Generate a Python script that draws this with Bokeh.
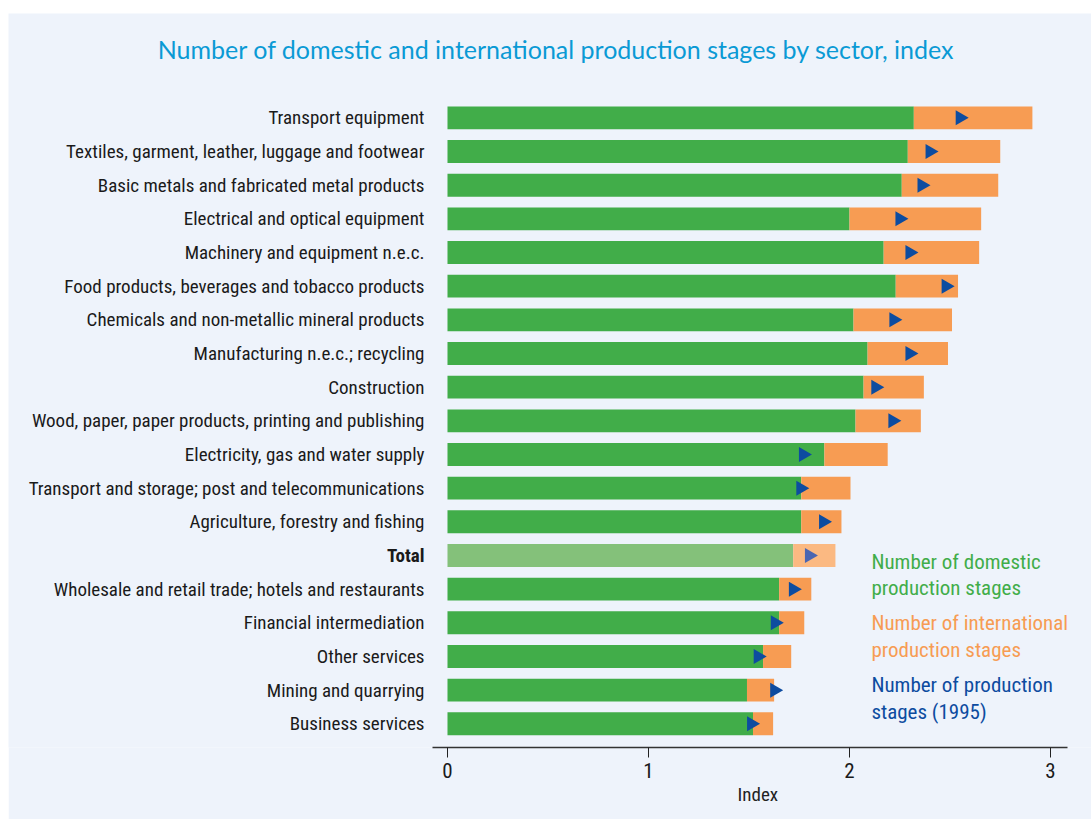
import numpy as np
from bokeh.plotting import figure
from bokeh.models import ColumnDataSource, Range1d, Label, FixedTicker, Title
from bokeh.embed import file_html
from bokeh.resources import INLINE

# Sectors, top to bottom
sectors = [
    "Transport equipment",
    "Textiles, garment, leather, luggage and footwear",
    "Basic metals and fabricated metal products",
    "Electrical and optical equipment",
    "Machinery and equipment n.e.c.",
    "Food products, beverages and tobacco products",
    "Chemicals and non-metallic mineral products",
    "Manufacturing n.e.c.; recycling",
    "Construction",
    "Wood, paper, paper products, printing and publishing",
    "Electricity, gas and water supply",
    "Transport and storage; post and telecommunications",
    "Agriculture, forestry and fishing",
    "Total",
    "Wholesale and retail trade; hotels and restaurants",
    "Financial intermediation",
    "Other services",
    "Mining and quarrying",
    "Business services",
]

# Index values
domestic = [2.32, 2.29, 2.26, 2.00, 2.17, 2.23, 2.02, 2.09, 2.07, 2.03,
            1.875, 1.76, 1.76, 1.72, 1.65, 1.65, 1.57, 1.49, 1.52]
international = [0.59, 0.46, 0.48, 0.655, 0.475, 0.31, 0.49, 0.40, 0.30, 0.325,
                 0.315, 0.245, 0.20, 0.21, 0.16, 0.125, 0.14, 0.135, 0.10]
stages_1995 = [2.55, 2.40, 2.36, 2.25, 2.30, 2.48, 2.22, 2.30, 2.13, 2.215,
               1.77, 1.757, 1.87, 1.80, 1.72, 1.63, 1.545, 1.627, 1.512]

x_ticks = [0, 1, 2, 3]
x_title = "Index"
chart_title = "Number of domestic and international production stages by sector, index"
legend_entries = [
    ("Number of domestic\nproduction stages", "#41ad49"),
    ("Number of international\nproduction stages", "#f79c53"),
    ("Number of production\nstages (1995)", "#0d4ca0"),
]

BG = "#eef3fb"
GREEN, ORANGE, BLUE = "#41ad49", "#f79c53", "#0d4ca0"
GREEN_T, ORANGE_T, BLUE_T = "#84c17a", "#fbb982", "#4a66b2"
FONT = "Roboto Condensed, Noto Sans Condensed, DejaVu Sans Condensed, sans-serif"

n = len(sectors)
ypos = [n - 1 - i for i in range(n)]
is_total = [s == "Total" for s in sectors]
totals = [d + f for d, f in zip(domestic, international)]

src = ColumnDataSource(dict(
    y=ypos,
    dom=domestic,
    tot=totals,
    s95=stages_1995,
    gcol=[GREEN_T if t else GREEN for t in is_total],
    ocol=[ORANGE_T if t else ORANGE for t in is_total],
    bcol=[BLUE_T if t else BLUE for t in is_total],
))

# the plotting frame fills the whole card; only the x axis sits outside it
p = figure(
    width=1083, height=806,
    x_range=Range1d(-2.184, 3.204),
    y_range=Range1d(-0.704, 21.10),
    y_axis_location=None,
    output_backend="svg", toolbar_location=None,
    min_border_left=0, min_border_right=0,
    min_border_top=0, min_border_bottom=72,
    background_fill_color=BG, border_fill_color=BG,
    outline_line_color=None,
    margin=(13, 0, 0, 8),
)
p.grid.visible = False

bar_h = 0.68
p.hbar(y="y", left=0, right="dom", height=bar_h, fill_color="gcol",
       line_color=None, source=src)
p.hbar(y="y", left="dom", right="tot", height=bar_h, fill_color="ocol",
       line_color=None, source=src)
p.scatter(x="s95", y="y", marker="triangle", angle=-np.pi / 2, size=15,
          fill_color="bcol", line_color=None, source=src)

# x axis, its line limited to the bar area
ax = p.xaxis[0]
ax.ticker = FixedTicker(ticks=x_ticks)
ax.bounds = (-0.0746, 3.085)
ax.minor_tick_line_color = None
ax.major_tick_in = 0
ax.major_tick_out = 10
ax.axis_line_color = "#333333"
ax.axis_line_width = 1.5
ax.major_tick_line_color = "#222222"
ax.major_label_text_font = FONT
ax.major_label_text_font_size = "21px"
ax.major_label_text_color = "#1a1a1a"
ax.major_label_standoff = 5

# axis title, set under the middle of the axis line
p.add_layout(Title(
    text=x_title, align="left", offset=729, standoff=0,
    text_font=FONT, text_font_size="19px", text_font_style="normal",
    text_color="#222222",
), "below")

# sector labels
for name, y, tot in zip(sectors, ypos, is_total):
    p.add_layout(Label(
        x=0, y=y, x_offset=-23, text=name,
        text_align="right", text_baseline="middle",
        text_font=FONT, text_font_size="19px",
        text_font_style="bold" if tot else "normal",
        text_color="#1a1a1a",
    ))

# chart title
p.add_layout(Label(
    x=0.542, y=20.06, text=chart_title,
    text_align="center", text_baseline="middle",
    text_font="Lato", text_font_size="25px", text_color="#0a9ad5",
))

# legend text blocks
legend_y = [4.82, 2.98, 1.14]
line_step = 0.79
for (txt, col), y0 in zip(legend_entries, legend_y):
    for k, line in enumerate(txt.split("\n")):
        p.add_layout(Label(
            x=2.109, y=y0 - k * line_step, text=line,
            text_align="left", text_baseline="middle",
            text_font=FONT, text_font_size="21px", text_color=col,
        ))

open("out.html", "w").write(file_html(p, INLINE))
